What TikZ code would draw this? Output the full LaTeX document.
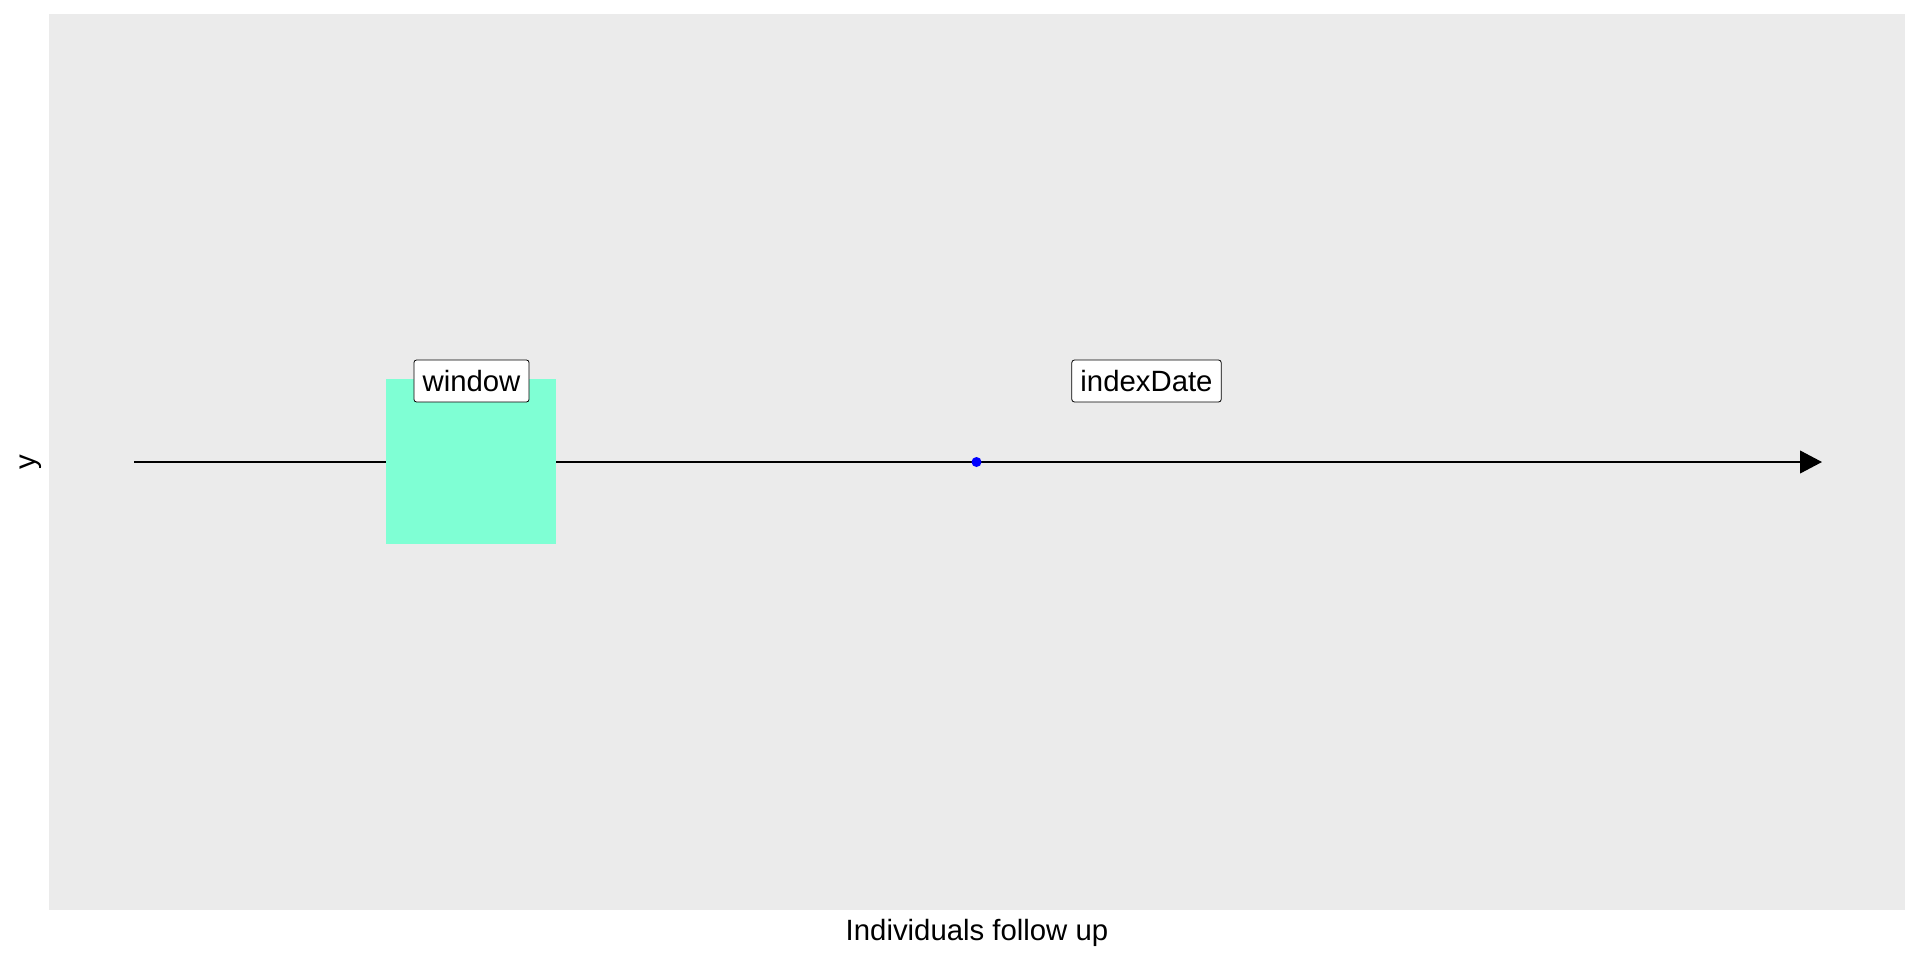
\documentclass[tikz,border=0pt]{standalone}
\usepackage{fontspec}
\setmainfont{Liberation Sans}
\usetikzlibrary{arrows.meta}

\definecolor{panelgrey}{HTML}{EBEBEB}
\definecolor{windowfill}{HTML}{7FFFD4}

\tikzset{
  timeline/.style={line width=1.5pt,-{Triangle[length=16.5pt,width=17pt]}},
  tag/.style={draw,fill=white,rounded corners=2pt,line width=0.6pt,
    minimum height=31.5pt,inner xsep=6.5pt,font=\fontsize{22}{22}\selectfont},
  axislabel/.style={font=\fontsize{22}{22}\selectfont}
}

\begin{document}
\begin{tikzpicture}[x=0.75pt,y=-0.75pt]
\useasboundingbox (0,0) rectangle (1920,960);

% Panel background
\fill[panelgrey] (49,14) rectangle (1905,910);

% Time axis
\coordinate (start) at (134,462);
\coordinate (end) at (1822,462);
\draw[timeline] (start) -- (end);

% Window
\node[fill=windowfill,inner sep=0pt,minimum width=127.5pt,minimum height=123.75pt] (window) at (471,461.5) {};

% Index date
\node[circle,fill=blue,inner sep=0pt,minimum size=7.5pt] (indexDate) at (976.5,462) {};

% Labels
\node[tag] (windowTag) at (471.5,381) {window};
\node[tag] (indexDateTag) at (1146.5,381) {indexDate};

% Axis titles
\node[axislabel,anchor=base] (xTitle) at (977,940) {Individuals follow up};
\node[axislabel,rotate=90] (yTitle) at (31,462) {y};
\end{tikzpicture}
\end{document}
